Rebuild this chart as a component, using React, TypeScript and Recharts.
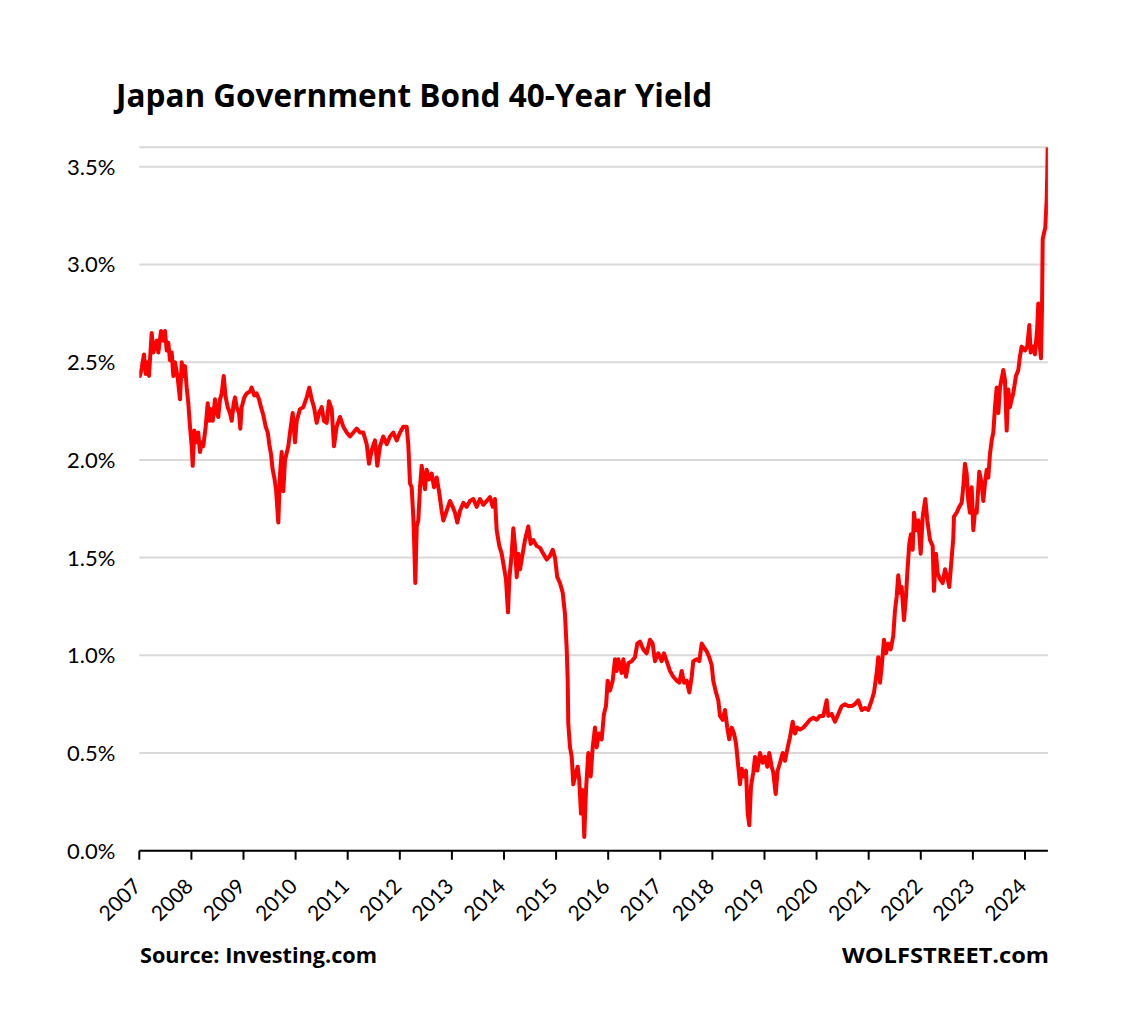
import { LineChart, Line, XAxis, YAxis, CartesianGrid } from 'recharts';

// [decimal year, yield %]
const JGB40_2007_2009: [number, number][] = [
  [2007.0, 2.45], [2007.013, 2.43], [2007.046, 2.47], [2007.09, 2.54], [2007.123, 2.44],
  [2007.161, 2.5], [2007.186, 2.43], [2007.238, 2.65], [2007.269, 2.55], [2007.301, 2.58],
  [2007.334, 2.61], [2007.365, 2.55], [2007.417, 2.66], [2007.461, 2.61], [2007.493, 2.66],
  [2007.526, 2.56], [2007.557, 2.6], [2007.589, 2.51], [2007.622, 2.55], [2007.653, 2.43],
  [2007.685, 2.5], [2007.737, 2.42], [2007.781, 2.31], [2007.814, 2.5], [2007.845, 2.43],
  [2007.877, 2.48], [2007.91, 2.37], [2007.941, 2.29], [2007.973, 2.17], [2008.006, 2.07],
  [2008.025, 1.97], [2008.056, 2.15], [2008.102, 2.09], [2008.132, 2.14], [2008.165, 2.04],
  [2008.198, 2.09], [2008.228, 2.07], [2008.274, 2.17], [2008.313, 2.29], [2008.344, 2.2],
  [2008.376, 2.26], [2008.409, 2.2], [2008.453, 2.31], [2008.486, 2.24], [2008.516, 2.22],
  [2008.549, 2.31], [2008.582, 2.34], [2008.62, 2.43], [2008.658, 2.32], [2008.697, 2.27],
  [2008.741, 2.24], [2008.774, 2.2], [2008.812, 2.29], [2008.837, 2.32], [2008.869, 2.27],
  [2008.914, 2.24], [2008.939, 2.16], [2008.965, 2.27], [2009.015, 2.32], [2009.061, 2.34],
  [2009.125, 2.35], [2009.157, 2.37], [2009.207, 2.33], [2009.253, 2.34], [2009.298, 2.31],
  [2009.336, 2.27], [2009.38, 2.23], [2009.426, 2.17], [2009.465, 2.14], [2009.495, 2.08],
  [2009.528, 2.03], [2009.56, 1.95], [2009.591, 1.91], [2009.624, 1.85], [2009.668, 1.68],
  [2009.701, 1.93], [2009.733, 2.04], [2009.764, 1.84], [2009.797, 2.0], [2009.86, 2.07],
  [2009.893, 2.14], [2009.944, 2.24], [2009.989, 2.09],
];

const JGB40_2010_2012: [number, number][] = [
  [2010.021, 2.2], [2010.084, 2.26], [2010.148, 2.27], [2010.213, 2.32], [2010.263, 2.37],
  [2010.309, 2.31], [2010.353, 2.27], [2010.405, 2.19], [2010.449, 2.24], [2010.501, 2.27],
  [2010.545, 2.2], [2010.597, 2.19], [2010.641, 2.3], [2010.693, 2.26], [2010.737, 2.07],
  [2010.789, 2.17], [2010.852, 2.22], [2010.916, 2.17], [2010.981, 2.14], [2011.044, 2.12],
  [2011.108, 2.14], [2011.173, 2.16], [2011.236, 2.14], [2011.299, 2.14], [2011.365, 2.08],
  [2011.409, 1.98], [2011.461, 2.05], [2011.524, 2.1], [2011.568, 1.97], [2011.62, 2.07],
  [2011.683, 2.12], [2011.749, 2.08], [2011.812, 2.12], [2011.875, 2.14], [2011.941, 2.1],
  [2012.004, 2.14], [2012.067, 2.17], [2012.132, 2.17], [2012.163, 2.08], [2012.196, 1.88],
  [2012.228, 1.86], [2012.259, 1.71], [2012.278, 1.56], [2012.298, 1.37], [2012.325, 1.66],
  [2012.355, 1.69], [2012.388, 1.86], [2012.42, 1.97], [2012.451, 1.91], [2012.484, 1.85],
  [2012.516, 1.95], [2012.56, 1.9], [2012.612, 1.93], [2012.657, 1.86], [2012.708, 1.91],
  [2012.758, 1.83], [2012.804, 1.74], [2012.835, 1.69], [2012.9, 1.74], [2012.964, 1.79],
];

const JGB40_2013_2015: [number, number][] = [
  [2013.015, 1.76], [2013.06, 1.73], [2013.104, 1.68], [2013.156, 1.74], [2013.219, 1.78],
  [2013.284, 1.76], [2013.347, 1.79], [2013.411, 1.8], [2013.476, 1.76], [2013.539, 1.8],
  [2013.603, 1.77], [2013.668, 1.79], [2013.731, 1.81], [2013.783, 1.76], [2013.827, 1.8],
  [2013.86, 1.64], [2013.91, 1.56], [2013.956, 1.52], [2014.0, 1.45], [2014.038, 1.39],
  [2014.077, 1.22], [2014.102, 1.39], [2014.148, 1.52], [2014.179, 1.65], [2014.211, 1.56],
  [2014.244, 1.4], [2014.275, 1.52], [2014.307, 1.44], [2014.359, 1.52], [2014.403, 1.59],
  [2014.466, 1.66], [2014.512, 1.57], [2014.562, 1.59], [2014.628, 1.56], [2014.691, 1.55],
  [2014.754, 1.52], [2014.82, 1.49], [2014.883, 1.51], [2014.935, 1.54], [2014.979, 1.5],
  [2015.023, 1.4], [2015.075, 1.37], [2015.127, 1.32], [2015.171, 1.21], [2015.204, 1.03],
  [2015.223, 0.87], [2015.234, 0.65], [2015.267, 0.53], [2015.3, 0.48], [2015.33, 0.34],
  [2015.382, 0.4], [2015.415, 0.43], [2015.445, 0.36], [2015.478, 0.19], [2015.511, 0.31],
  [2015.541, 0.07], [2015.574, 0.31], [2015.618, 0.5], [2015.664, 0.38], [2015.703, 0.53],
  [2015.747, 0.63], [2015.779, 0.53], [2015.823, 0.6], [2015.875, 0.57], [2015.919, 0.7],
  [2015.958, 0.74], [2015.99, 0.87],
];

const JGB40_2016_2018: [number, number][] = [
  [2016.035, 0.82], [2016.086, 0.87], [2016.131, 0.98], [2016.163, 0.92], [2016.194, 0.98],
  [2016.259, 0.91], [2016.29, 0.98], [2016.342, 0.89], [2016.386, 0.96], [2016.451, 0.97],
  [2016.514, 0.99], [2016.559, 1.06], [2016.61, 1.07], [2016.674, 1.03], [2016.739, 1.01],
  [2016.802, 1.08], [2016.854, 1.06], [2016.898, 0.97], [2016.962, 1.01], [2017.027, 0.97],
  [2017.071, 1.01], [2017.123, 0.97], [2017.186, 0.92], [2017.25, 0.89], [2017.315, 0.87],
  [2017.365, 0.86], [2017.411, 0.92], [2017.455, 0.86], [2017.507, 0.87], [2017.557, 0.81],
  [2017.603, 0.89], [2017.633, 0.97], [2017.699, 0.98], [2017.749, 0.97], [2017.795, 1.06],
  [2017.839, 1.04], [2017.891, 1.02], [2017.94, 0.99], [2017.987, 0.95], [2018.017, 0.87],
  [2018.069, 0.81], [2018.113, 0.77], [2018.146, 0.69], [2018.198, 0.67], [2018.242, 0.72],
  [2018.286, 0.63], [2018.324, 0.57], [2018.37, 0.63], [2018.415, 0.6], [2018.453, 0.55],
  [2018.497, 0.43], [2018.53, 0.34], [2018.562, 0.42], [2018.607, 0.38], [2018.645, 0.41],
  [2018.678, 0.19], [2018.708, 0.13], [2018.741, 0.33], [2018.785, 0.4], [2018.818, 0.48],
  [2018.862, 0.41], [2018.914, 0.5], [2018.965, 0.45],
];

const JGB40_2019_2021: [number, number][] = [
  [2019.01, 0.48], [2019.054, 0.43], [2019.092, 0.5], [2019.138, 0.43], [2019.169, 0.4],
  [2019.215, 0.29], [2019.253, 0.41], [2019.298, 0.45], [2019.349, 0.5], [2019.394, 0.46],
  [2019.438, 0.52], [2019.489, 0.58], [2019.541, 0.66], [2019.585, 0.6], [2019.63, 0.63],
  [2019.681, 0.62], [2019.745, 0.63], [2019.81, 0.65], [2019.873, 0.67], [2019.937, 0.68],
  [2020.002, 0.67], [2020.065, 0.69], [2020.129, 0.69], [2020.194, 0.77], [2020.225, 0.69],
  [2020.29, 0.7], [2020.353, 0.66], [2020.417, 0.7], [2020.482, 0.74], [2020.545, 0.75],
  [2020.608, 0.74], [2020.674, 0.74], [2020.737, 0.75], [2020.8, 0.77], [2020.866, 0.72],
  [2020.929, 0.73], [2020.992, 0.72], [2021.058, 0.77], [2021.102, 0.81], [2021.154, 0.91],
  [2021.184, 0.99], [2021.217, 0.86], [2021.249, 0.94], [2021.294, 1.08], [2021.332, 1.01],
  [2021.376, 1.06], [2021.422, 1.03], [2021.472, 1.1], [2021.505, 1.23], [2021.537, 1.3],
  [2021.568, 1.41], [2021.601, 1.32], [2021.633, 1.35], [2021.678, 1.18], [2021.716, 1.3],
  [2021.741, 1.42], [2021.779, 1.57], [2021.812, 1.62], [2021.845, 1.54], [2021.87, 1.73],
  [2021.908, 1.64], [2021.952, 1.69], [2021.998, 1.52],
];

const JGB40_2022_2024: [number, number][] = [
  [2022.037, 1.71], [2022.087, 1.8], [2022.125, 1.69], [2022.177, 1.59], [2022.228, 1.56],
  [2022.253, 1.33], [2022.292, 1.52], [2022.324, 1.42], [2022.369, 1.39], [2022.421, 1.37],
  [2022.465, 1.44], [2022.509, 1.4], [2022.547, 1.35], [2022.624, 1.6], [2022.637, 1.71],
  [2022.689, 1.73], [2022.739, 1.76], [2022.785, 1.78], [2022.815, 1.86], [2022.848, 1.98],
  [2022.881, 1.93], [2022.912, 1.79], [2022.944, 1.73], [2022.977, 1.86], [2023.008, 1.64],
  [2023.041, 1.74], [2023.073, 1.73], [2023.123, 1.94], [2023.169, 1.88], [2023.2, 1.79],
  [2023.232, 1.88], [2023.265, 1.95], [2023.296, 1.91], [2023.328, 2.03], [2023.361, 2.1],
  [2023.392, 2.14], [2023.424, 2.27], [2023.457, 2.37], [2023.488, 2.24], [2023.52, 2.37],
  [2023.584, 2.46], [2023.616, 2.41], [2023.649, 2.15], [2023.68, 2.36], [2023.712, 2.27],
  [2023.745, 2.31], [2023.775, 2.34], [2023.827, 2.43], [2023.872, 2.46], [2023.904, 2.53],
  [2023.937, 2.58], [2024.0, 2.56], [2024.044, 2.58], [2024.083, 2.69], [2024.109, 2.55],
  [2024.159, 2.58], [2024.192, 2.54], [2024.236, 2.68], [2024.255, 2.8], [2024.275, 2.61],
  [2024.307, 2.52], [2024.327, 2.78], [2024.34, 3.13], [2024.365, 3.16], [2024.39, 3.19],
  [2024.416, 3.33], [2024.428, 3.47], [2024.436, 3.6],
];

const YEAR_TICKS = [
  2007, 2008, 2009, 2010, 2011, 2012, 2013, 2014, 2015,
  2016, 2017, 2018, 2019, 2020, 2021, 2022, 2023, 2024,
];
const PCT_TICKS = [0, 0.5, 1, 1.5, 2, 2.5, 3, 3.5];

const TITLE = 'Japan Government Bond 40-Year Yield';
const SOURCE = 'Source: Investing.com';
const BRAND = 'WOLFSTREET.com';

const series = [
  ...JGB40_2007_2009,
  ...JGB40_2010_2012,
  ...JGB40_2013_2015,
  ...JGB40_2016_2018,
  ...JGB40_2019_2021,
  ...JGB40_2022_2024,
].map(([t, v]) => ({ t, v }));

const FONT = 'Lato, "Open Sans", sans-serif';
const BOLD_FONT = '"Open Sans", Lato, sans-serif';

const YearTick = (props: any) => {
  const { x, y, payload } = props;
  const ax = x + 3;
  const ay = y + 26;
  return (
    <text
      x={ax}
      y={ay}
      transform={`rotate(-45 ${ax} ${ay})`}
      textAnchor="end"
      fontFamily={FONT}
      fontSize={21}
      fill="#000"
    >
      {payload.value}
    </text>
  );
};

const PctTick = (props: any) => {
  const { x, y, payload } = props;
  return (
    <text x={x} y={y} dy="0.36em" textAnchor="end" fontFamily={FONT} fontSize={22} fill="#000">
      {`${Number(payload.value).toFixed(1)}%`}
    </text>
  );
};

export default function App() {
  const W = 1109;
  const H = 1004;
  return (
    <div style={{ position: 'relative', width: W, height: H, background: '#fff' }}>
      <LineChart
        width={W}
        height={H}
        data={series}
        margin={{ top: 139.3, right: 69.1, left: 71.3, bottom: 101.3 }}
      >
        <CartesianGrid vertical={false} stroke="#d9d9d9" strokeWidth={2} />
        <XAxis
          type="number"
          dataKey="t"
          domain={[2007, 2024.44]}
          ticks={YEAR_TICKS}
          allowDataOverflow
          height={60}
          axisLine={{ stroke: '#000', strokeWidth: 2 }}
          tickLine={{ stroke: '#000', strokeWidth: 2 }}
          tickSize={9}
          tick={<YearTick />}
          interval={0}
        />
        <YAxis
          type="number"
          domain={[0, 3.6]}
          ticks={PCT_TICKS}
          allowDataOverflow
          width={60}
          axisLine={false}
          tickLine={false}
          tickSize={0}
          tickMargin={24}
          tick={<PctTick />}
          interval={0}
        />
        <Line
          type="linear"
          dataKey="v"
          stroke="#ff0000"
          strokeWidth={4}
          strokeLinejoin="round"
          dot={false}
          isAnimationActive={false}
        />
      </LineChart>
      <svg
        width={W}
        height={H}
        style={{ position: 'absolute', left: 0, top: 0, pointerEvents: 'none' }}
      >
        <text x={108} y={99} fontFamily={BOLD_FONT} fontWeight={700} fontSize={31.5} fill="#000">
          {TITLE}
        </text>
        <text
          x={132}
          y={955}
          textLength={237}
          lengthAdjust="spacingAndGlyphs"
          fontFamily={BOLD_FONT}
          fontWeight={700}
          fontSize={22}
          fill="#000"
        >
          {SOURCE}
        </text>
        <text
          x={834}
          y={955}
          textLength={207}
          lengthAdjust="spacingAndGlyphs"
          fontFamily={BOLD_FONT}
          fontWeight={700}
          fontSize={22}
          fill="#000"
        >
          {BRAND}
        </text>
      </svg>
    </div>
  );
}
